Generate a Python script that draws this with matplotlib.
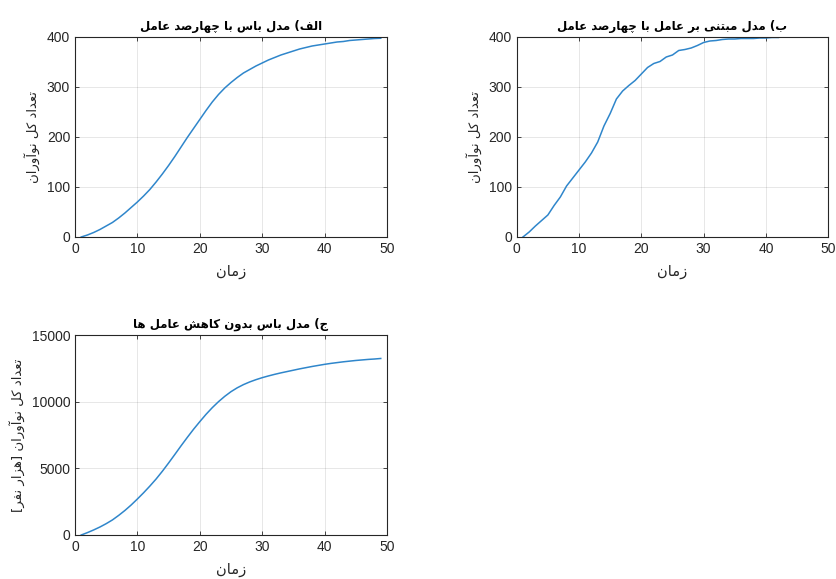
import re
import matplotlib
matplotlib.use("Agg")
import matplotlib.pyplot as plt

plt.rcParams['font.family'] = ['Liberation Sans', 'DejaVu Sans']

# data
t_bass = list(range(1, 50))
adopters_bass = [0, 4, 9, 15, 22, 29, 38, 48, 59, 70,
                 82, 95, 110, 126, 143, 161, 180, 199, 217, 235,
                 253, 270, 285, 298, 309, 319, 328, 335, 342, 348,
                 354, 359, 364, 368, 372, 376, 379, 382, 384, 386,
                 388, 390, 391, 393, 394, 395, 396, 397, 397.5]

t_agent = list(range(1, 43))
adopters_agent = [0, 10, 22, 33, 44, 63, 80, 102, 118, 134,
                  150, 168, 190, 222, 247, 276, 292, 303, 313, 326,
                  339, 347, 351, 360, 364, 373, 375, 378, 383, 389,
                  392, 393, 395, 396, 396, 397, 397, 397, 398, 398,
                  399, 399]

t_nodecay = list(range(1, 50))
adopters_nodecay = [0, 180, 380, 600, 850, 1130, 1470, 1840, 2250, 2700,
                    3170, 3670, 4200, 4780, 5400, 6040, 6690, 7320, 7930, 8500,
                    9050, 9550, 10000, 10400, 10750, 11040, 11280, 11480, 11650, 11800,
                    11930, 12050, 12160, 12260, 12360, 12460, 12550, 12640, 12720, 12800,
                    12870, 12930, 12990, 13040, 13090, 13130, 13170, 13200, 13240]

titles = ["الف) مدل باس با چهارصد عامل",
          "ب) مدل مبتنی بر عامل با چهارصد عامل",
          "ج) مدل باس بدون کاهش عامل ها"]
ylabels = ["تعداد کل نوآوران",
           "تعداد کل نوآوران",
           "تعداد کل نوآوران [هزار نفر]"]
xlabel = "زمان"

# arabic contextual forms: isolated, final, initial, medial
FORMS = {
    'ا': (0xFE8D, 0xFE8E), 'آ': (0xFE81, 0xFE82),
    'د': (0xFEA9, 0xFEAA), 'ر': (0xFEAD, 0xFEAE),
    'ز': (0xFEAF, 0xFEB0), 'و': (0xFEED, 0xFEEE),
    'ب': (0xFE8F, 0xFE90, 0xFE91, 0xFE92), 'ت': (0xFE95, 0xFE96, 0xFE97, 0xFE98),
    'ج': (0xFE9D, 0xFE9E, 0xFE9F, 0xFEA0), 'چ': (0xFB7A, 0xFB7B, 0xFB7C, 0xFB7D),
    'س': (0xFEB1, 0xFEB2, 0xFEB3, 0xFEB4), 'ش': (0xFEB5, 0xFEB6, 0xFEB7, 0xFEB8),
    'ص': (0xFEB9, 0xFEBA, 0xFEBB, 0xFEBC), 'ع': (0xFEC9, 0xFECA, 0xFECB, 0xFECC),
    'ف': (0xFED1, 0xFED2, 0xFED3, 0xFED4), 'ل': (0xFEDD, 0xFEDE, 0xFEDF, 0xFEE0),
    'م': (0xFEE1, 0xFEE2, 0xFEE3, 0xFEE4), 'ن': (0xFEE5, 0xFEE6, 0xFEE7, 0xFEE8),
    'ه': (0xFEE9, 0xFEEA, 0xFEEB, 0xFEEC), 'ی': (0xFBFC, 0xFBFD, 0xFBFE, 0xFBFF),
    'ک': (0xFB8E, 0xFB8F, 0xFB90, 0xFB91),
}
MIRROR = {'(': ')', ')': '(', '[': ']', ']': '['}
LETTERS = ''.join(FORMS)


def shape_run(run):
    out = []
    for i, ch in enumerate(run):
        f = FORMS[ch]
        prev_j = i > 0 and len(FORMS[run[i - 1]]) == 4
        next_j = i < len(run) - 1 and len(f) == 4
        if prev_j and next_j:
            g = f[3]
        elif prev_j:
            g = f[1]
        elif next_j:
            g = f[2]
        else:
            g = f[0]
        out.append(chr(g))
    return ''.join(reversed(out))


def rtl(text):
    # visual order for a right-to-left line
    words = []
    for w in reversed(text.split(' ')):
        parts = re.findall('[' + LETTERS + ']+|[^' + LETTERS + ']', w)
        vis = []
        for p in reversed(parts):
            vis.append(shape_run(p) if p[0] in FORMS else MIRROR.get(p, p))
        words.append(''.join(vis))
    return ' '.join(words)


fig = plt.figure(figsize=(8.36, 5.79), dpi=100)
ax_a = fig.add_axes([0.0897, 0.5907, 0.3732, 0.3454])
ax_b = fig.add_axes([0.6181, 0.5907, 0.3726, 0.3454])
ax_c = fig.add_axes([0.0897, 0.0760, 0.3732, 0.3454])

panels = [(ax_a, t_bass, adopters_bass, [0, 400], [0, 100, 200, 300, 400]),
          (ax_b, t_agent, adopters_agent, [0, 400], [0, 100, 200, 300, 400]),
          (ax_c, t_nodecay, adopters_nodecay, [0, 15000], [0, 5000, 10000, 15000])]

for i, (ax, x, y, ylim, yt) in enumerate(panels):
    ax.plot(x, y, color='#2F86CB', linewidth=1.1)
    ax.set_xlim(0, 50)
    ax.set_ylim(*ylim)
    ax.set_xticks([0, 10, 20, 30, 40, 50])
    ax.set_yticks(yt)
    ax.grid(True, color='#262626', alpha=0.13, linewidth=0.6)
    ax.tick_params(direction='in', top=True, right=True, length=3,
                   labelsize=10, colors='#262626', width=0.6)
    for s in ax.spines.values():
        s.set_color('#262626')
        s.set_linewidth(0.8)
    ax.set_title(rtl(titles[i]), fontsize=8.5, fontweight='bold',
                 family='DejaVu Sans', pad=5)
    ax.set_ylabel(rtl(ylabels[i]), fontsize=9.5, color='#262626',
                  family='DejaVu Sans', labelpad=5)
    ax.set_xlabel(rtl(xlabel), fontsize=10.5, color='#262626',
                  family='DejaVu Sans', labelpad=6)

fig.savefig('out.png', dpi=100, facecolor='white')
